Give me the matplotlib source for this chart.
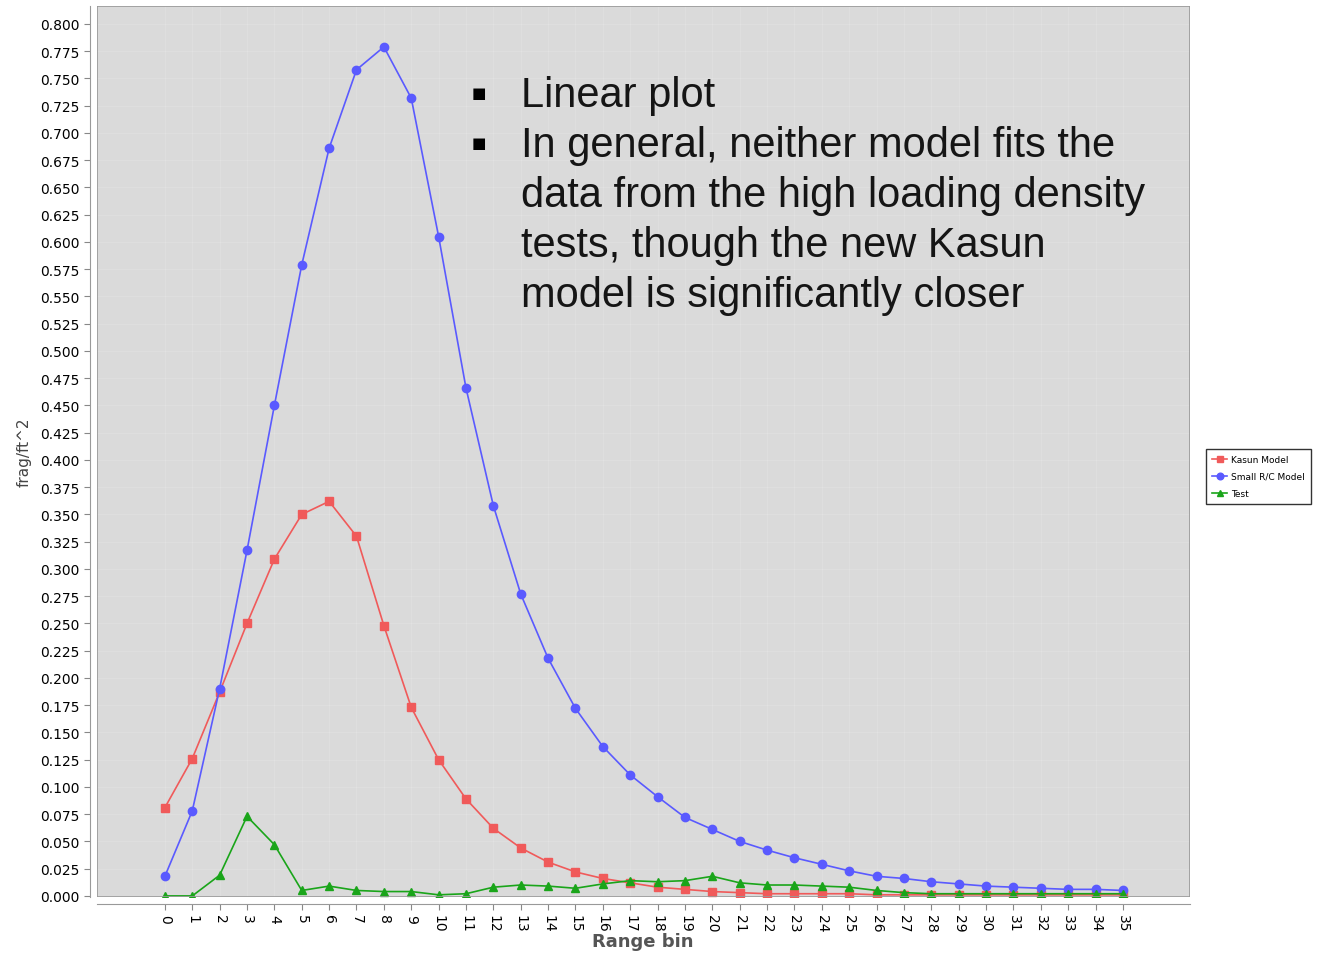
import numpy as np
import matplotlib
matplotlib.use('Agg')
import matplotlib.pyplot as plt

# range bins 0..35
bins = list(range(36))

kasun = [0.081, 0.126, 0.187, 0.250, 0.309, 0.350, 0.362, 0.330, 0.248, 0.173,
         0.125, 0.089, 0.062, 0.044, 0.031, 0.022, 0.016, 0.012, 0.008, 0.006,
         0.004, 0.003, 0.002, 0.002, 0.002, 0.002, 0.001, 0.001, 0.001, 0.001,
         0.001, 0.001, 0.001, 0.001, 0.001, 0.001]

small_rc = [0.018, 0.078, 0.190, 0.317, 0.450, 0.579, 0.686, 0.758, 0.779, 0.732,
            0.605, 0.466, 0.358, 0.277, 0.218, 0.172, 0.137, 0.111, 0.091, 0.072,
            0.061, 0.050, 0.042, 0.035, 0.029, 0.023, 0.018, 0.016, 0.013, 0.011,
            0.009, 0.008, 0.007, 0.006, 0.006, 0.005]

test = [0.000, 0.000, 0.019, 0.073, 0.047, 0.005, 0.009, 0.005, 0.004, 0.004,
        0.001, 0.002, 0.008, 0.010, 0.009, 0.007, 0.011, 0.014, 0.013, 0.014,
        0.018, 0.012, 0.010, 0.010, 0.009, 0.008, 0.005, 0.003, 0.002, 0.002,
        0.002, 0.002, 0.002, 0.002, 0.002, 0.002]

yticks = np.arange(0, 0.8001, 0.025)

W, H = 1319, 954
fig = plt.figure(figsize=(W / 100, H / 100), dpi=100)
ax = fig.add_axes([97 / W, 1 - 898 / H, (1190 - 97) / W, (898 - 7) / H])
ax.set_facecolor('#dadada')

ax.plot(bins, kasun, color='#f05a5a', marker='s', markersize=6, lw=1.2, label='Kasun Model')
ax.plot(bins, small_rc, color='#5a5aff', marker='o', markersize=6, lw=1.2, label='Small R/C Model')
ax.plot(bins, test, color='#1aa51a', marker='^', markersize=6, lw=1.2, label='Test')

ax.set_xlim(-2.48, 37.45)
ax.set_ylim(-0.001, 0.8165)
ax.set_xticks(bins)
ax.set_xticklabels([str(b) for b in bins], fontsize=5.5, color='#444444')
ax.tick_params(axis='x', labelrotation=-90)
ax.set_yticks(yticks)
ax.set_yticklabels(['%.3f' % v for v in yticks], fontsize=11, color='#666666')
ax.tick_params(length=4, color='#888888')

ax.grid(True, color='white', lw=0.6, alpha=0.15)
for s in ['top', 'right']:
    ax.spines[s].set_visible(False)
for s in ['bottom', 'left']:
    ax.spines[s].set_position(('outward', 5))
    ax.spines[s].set_color('#999999')
ax.spines['bottom'].set_bounds(-2.48, 37.45)
ax.spines['left'].set_bounds(-0.001, 0.8165)
ax.add_patch(plt.Rectangle((0, 0), 1, 1, transform=ax.transAxes, fill=False,
                           edgecolor='#999999', lw=1.2, zorder=5))

ax.set_xlabel('Range bin', fontsize=13, color='#555555', fontweight='bold')
ax.xaxis.set_label_coords((643 - 97) / (1190 - 97), -(942 - 898) / (898 - 7))
ax.xaxis.label.set_va('center')
ax.set_ylabel('frag/ft^2', fontsize=11, color='#444444', labelpad=6)

# bullet text
lines = ['Linear plot',
         'In general, neither model fits the',
         'data from the high loading density',
         'tests, though the new Kasun',
         'model is significantly closer']
for i, t in enumerate(lines):
    y = 1 - (107 + 50 * i) / H
    fig.text(521 / W, y, t, fontsize=30, family='Liberation Sans', va='baseline', color='#151515')
for i in [0, 1]:
    fig.text(479 / W, 1 - (93 + 50 * i) / H, '\u25a0', fontsize=11, family='DejaVu Sans',
             va='center', ha='center', color='black')

leg = fig.legend(loc='upper left', bbox_to_anchor=(1206 / W, 1 - 450 / H), fontsize=6.5,
                 frameon=True, fancybox=False, edgecolor='black', borderpad=0.7,
                 borderaxespad=0, handlelength=1.6, handletextpad=0.5,
                 markerscale=0.8, labelspacing=0.85)
leg.get_frame().set_linewidth(1)

fig.savefig('out.png', dpi=100)
